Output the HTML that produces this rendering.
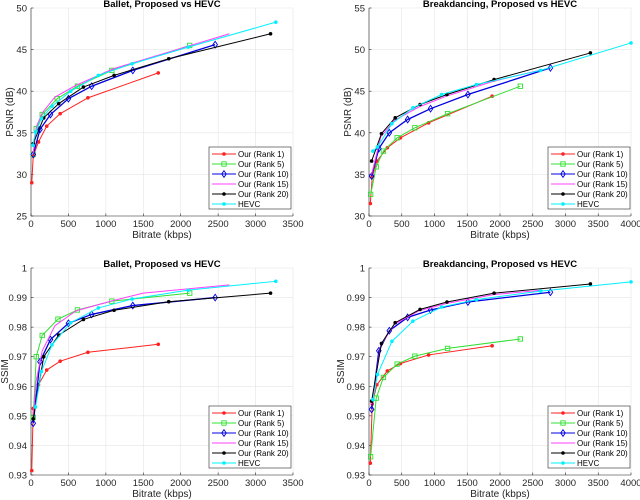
<!DOCTYPE html>
<html><head><meta charset="utf-8">
<style>
html,body{margin:0;padding:0;background:#fff;}
svg{display:block;font-family:"Liberation Sans",Arial,sans-serif;}
</style></head>
<body>
<svg id="chart" width="640" height="500" viewBox="0 0 640 500"></svg>
<script>
const seriesNames = ["Our (Rank 1)","Our (Rank 5)","Our (Rank 10)","Our (Rank 15)","Our (Rank 20)","HEVC"];
// Ballet PSNR
const bpX1=[10,30,100,210,390,760,1700], bpY1=[29,32.2,33.9,35.8,37.3,39.2,42.2];
const bpX5=[30,70,150,350,620,1080,2120], bpY5=[32.4,35.5,37.2,39.1,40.6,42.5,45.5];
const bpX10=[30,120,260,500,810,1360,2460], bpY10=[32.4,35.4,37.2,39.1,40.6,42.5,45.6];
const bpX15=[30,70,150,320,600,1100,2650], bpY15=[32.5,35.7,37.4,39.3,40.7,42.7,46.9];
const bpX20=[30,170,370,700,1110,1840,3200], bpY20=[33.7,36.8,38.5,40.5,41.9,43.9,46.9];
const bpXH=[25,60,140,280,530,900,1350,2100,3270], bpYH=[33.5,35.1,36.7,38.2,40.0,41.9,43.3,45.3,48.3];
// Breakdancing PSNR
const dpX1=[20,50,120,280,480,910,1880], dpY1=[31.5,34.7,36.6,38.2,39.4,41.2,44.4];
const dpX5=[25,110,220,430,700,1200,2310], dpY5=[32.6,35.9,37.8,39.4,40.6,42.3,45.6];
const dpX10=[40,150,310,590,940,1510,2770], dpY10=[34.8,38.1,40.0,41.6,42.9,44.6,47.8];
const dpX15=[40,180,390,760,1180,1900,2650], dpY15=[35.0,39.5,41.5,43.1,44.4,46.2,47.6];
const dpX20=[40,190,400,780,1190,1910,3380], dpY20=[36.6,39.9,41.8,43.4,44.6,46.4,49.6];
const dpXH=[60,130,350,670,1110,1640,2620,4000], dpYH=[37.8,38.3,41.1,43.0,44.6,45.8,47.5,50.8];
// Ballet SSIM
const bsX1=bpX1, bsY1=[0.9315,0.9525,0.9605,0.9655,0.9685,0.9715,0.9742];
const bsX5=[30,70,150,360,620,1080,2120], bsY5=[0.9495,0.9700,0.9772,0.9827,0.9858,0.9888,0.9915];
const bsX10=bpX10, bsY10=[0.9475,0.9683,0.9758,0.9813,0.9843,0.9873,0.9900];
const bsX15=[30,70,150,320,600,1100,1500,2650], bsY15=[0.950,0.962,0.972,0.9805,0.9855,0.989,0.9915,0.9943];
const bsX20=bpX20, bsY20=[0.9490,0.9700,0.9773,0.9826,0.9857,0.9886,0.9915];
const bsXH=[60,140,280,530,900,1350,2100,3270], bsYH=[0.9530,0.9650,0.9740,0.9815,0.9865,0.9895,0.9925,0.9955];
// Breakdancing SSIM
const dsX1=dpX1, dsY1=[0.9340,0.9540,0.9605,0.9652,0.9677,0.9706,0.9737];
const dsX5=dpX5, dsY5=[0.9362,0.9560,0.9630,0.9675,0.9702,0.9728,0.9760];
const dsX10=dpX10, dsY10=[0.9522,0.9720,0.9788,0.9833,0.9858,0.9885,0.9918];
const dsX15=dpX15, dsY15=[0.954,0.974,0.981,0.9855,0.988,0.991,0.9925];
const dsX20=dpX20, dsY20=[0.9550,0.9745,0.9815,0.9860,0.9885,0.9915,0.9946];
const dsXH=[60,130,350,670,1110,1640,2620,4000], dsYH=[0.9555,0.9640,0.9752,0.9820,0.9868,0.9893,0.9922,0.9953];

const xTicksA=[0,500,1000,1500,2000,2500,3000,3500];
const xTicksB=[0,500,1000,1500,2000,2500,3000,3500,4000];
const yTicksPA=[25,30,35,40,45,50];
const yTicksPB=[30,35,40,45,50,55];
const yTicksS=[0.93,0.94,0.95,0.96,0.97,0.98,0.99,1];
const ySLabels=["0.93","0.94","0.95","0.96","0.97","0.98","0.99","1"];

const colors=["#ff2020","#30e030","#0000e0","#ff40ff","#000000","#00f0ff"];
const markers=["dot","square","diamond","none","dot","dot"];
const NS="http://www.w3.org/2000/svg";
const svg=document.getElementById("chart");
function mk(tag,attrs,parent){const e=document.createElementNS(NS,tag);for(const k in attrs)e.setAttribute(k,attrs[k]);(parent||svg).appendChild(e);return e;}

function panel(cfg){
  const g=mk("g",{});
  
  
  const L=cfg.L,R=cfg.R,T=cfg.T,B=cfg.B;
  const sx=v=>L+(v-cfg.xmin)/(cfg.xmax-cfg.xmin)*(R-L);
  const sy=v=>B-(v-cfg.ymin)/(cfg.ymax-cfg.ymin)*(B-T);
  cfg.xt.forEach(t=>{const l=mk("line",{x1:sx(t),x2:sx(t),y1:T,y2:B,stroke:"#e4e4e4","stroke-width":0.6},g);
    });
  cfg.yt.forEach(t=>{const l=mk("line",{x1:L,x2:R,y1:sy(t),y2:sy(t),stroke:"#e4e4e4","stroke-width":0.6},g);
    });
  const ax=mk("path",{d:`M${L},${T}V${B}H${R}`,fill:"none",stroke:"#262626","stroke-width":0.6},g);
  
  cfg.xt.forEach(t=>{mk("line",{x1:sx(t),x2:sx(t),y1:B,y2:B-2.5,stroke:"#262626","stroke-width":0.6},g);
    const tx=mk("text",{x:sx(t),y:B+11,"font-size":9.5,fill:"#262626","text-anchor":"middle"},g);tx.textContent=t;
    });
  cfg.yt.forEach((t,i)=>{mk("line",{x1:L,x2:L+2.5,y1:sy(t),y2:sy(t),stroke:"#262626","stroke-width":0.6},g);
    const tx=mk("text",{x:L-4,y:sy(t)+3.5,"font-size":9.5,fill:"#262626","text-anchor":"end"},g);tx.textContent=cfg.yl?cfg.yl[i]:t;
    });
  const ti=mk("text",{x:(L+R)/2,y:T-1,"font-size":9.5,"font-weight":"bold",fill:"#000","text-anchor":"middle"},g);ti.textContent=cfg.title;
  
  const xl=mk("text",{x:(L+R)/2,y:B+22,"font-size":10,fill:"#262626","text-anchor":"middle"},g);xl.textContent="Bitrate (kbps)";
  
  const yx=cfg.ylx, yy=(T+B)/2;
  const yl=mk("text",{x:yx,y:yy,"font-size":10,fill:"#262626","text-anchor":"middle",transform:`rotate(-90 ${yx} ${yy})`},g);yl.textContent=cfg.ytitle;
  
  cfg.series.forEach((s,i)=>{
    const sg=mk("g",{},g);
    
    
    const pts=s[0].map((x,k)=>sx(x).toFixed(2)+","+sy(s[1][k]).toFixed(2)).join(" ");
    mk("polyline",{points:pts,fill:"none",stroke:colors[i],"stroke-width":i==2?1.3:1},sg);
    s[0].forEach((x,k)=>drawMarker(sg,markers[i],sx(x),sy(s[1][k]),colors[i]));
  });
  const lx=cfg.lx, ly=cfg.ly;
  const lg=mk("g",{},g);
  
  mk("rect",{x:lx,y:ly,width:82,height:62,fill:"#fff",stroke:"#262626","stroke-width":0.6},lg);
  seriesNames.forEach((n,i)=>{
    const yy=ly+7+i*10;
    const e=mk("g",{},lg);
    
    mk("line",{x1:lx+3,x2:lx+27,y1:yy,y2:yy,stroke:colors[i],"stroke-width":1},e);
    drawMarker(e,markers[i],lx+15,yy,colors[i]);
    const t=mk("text",{x:lx+29,y:yy+3,"font-size":8,fill:"#000"},e);t.textContent=n;
  });
}
function drawMarker(p,type,x,y,c){
  if(type=="dot")mk("circle",{cx:x,cy:y,r:1.8,fill:c},p);
  else if(type=="square")mk("rect",{x:x-2.2,y:y-2.2,width:4.4,height:4.4,fill:"none",stroke:c,"stroke-width":0.9},p);
  else if(type=="diamond")mk("path",{d:`M${x},${y-3.3}L${x+2.3},${y}L${x},${y+3.3}L${x-2.3},${y}Z`,fill:"none",stroke:c,"stroke-width":0.9},p);
}

panel({name:"ballet-psnr-chart",L:31,R:293,T:8,B:216,xmin:0,xmax:3500,ymin:25,ymax:50,xt:xTicksA,yt:yTicksPA,
  title:"Ballet, Proposed vs HEVC",ytitle:"PSNR (dB)",ylx:13,lx:209,ly:147,
  series:[[bpX1,bpY1],[bpX5,bpY5],[bpX10,bpY10],[bpX15,bpY15],[bpX20,bpY20],[bpXH,bpYH]]});
panel({name:"breakdancing-psnr-chart",L:369,R:631,T:8,B:216,xmin:0,xmax:4000,ymin:30,ymax:55,xt:xTicksB,yt:yTicksPB,
  title:"Breakdancing, Proposed vs HEVC",ytitle:"PSNR (dB)",ylx:351,lx:548,ly:147,
  series:[[dpX1,dpY1],[dpX5,dpY5],[dpX10,dpY10],[dpX15,dpY15],[dpX20,dpY20],[dpXH,dpYH]]});
panel({name:"ballet-ssim-chart",L:31,R:293,T:268,B:475,xmin:0,xmax:3500,ymin:0.93,ymax:1,xt:xTicksA,yt:yTicksS,yl:ySLabels,
  title:"Ballet, Proposed vs HEVC",ytitle:"SSIM",ylx:8,lx:209,ly:406,
  series:[[bsX1,bsY1],[bsX5,bsY5],[bsX10,bsY10],[bsX15,bsY15],[bsX20,bsY20],[bsXH,bsYH]]});
panel({name:"breakdancing-ssim-chart",L:369,R:631,T:268,B:475,xmin:0,xmax:4000,ymin:0.93,ymax:1,xt:xTicksB,yt:yTicksS,yl:ySLabels,
  title:"Breakdancing, Proposed vs HEVC",ytitle:"SSIM",ylx:344,lx:548,ly:406,
  series:[[dsX1,dsY1],[dsX5,dsY5],[dsX10,dsY10],[dsX15,dsY15],[dsX20,dsY20],[dsXH,dsYH]]});
</script>
</body></html>
